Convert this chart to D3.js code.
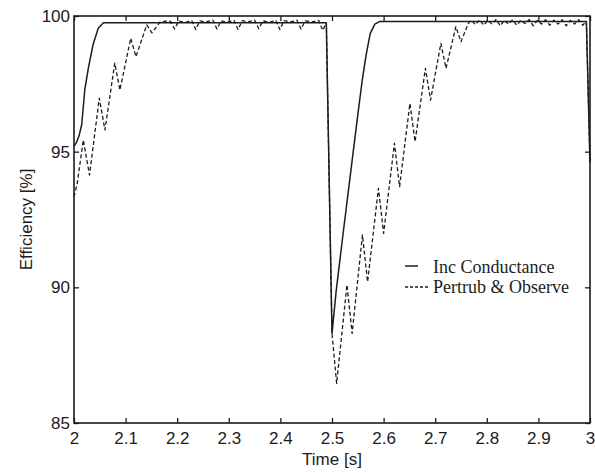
<!DOCTYPE html>
<html>
<head>
<meta charset="utf-8">
<script src="https://cdn.jsdelivr.net/npm/d3@7"></script>
<style>
  html, body { margin: 0; padding: 0; background: #fff; }
  svg { display: block; }
</style>
</head>
<body>
<svg id="chart" width="595" height="473"></svg>
<script>
// ---- Data ----
const xTicks = [2, 2.1, 2.2, 2.3, 2.4, 2.5, 2.6, 2.7, 2.8, 2.9, 3];
const yTicks = [85, 90, 95, 100];
const seriesNames = ["Inc Conductance", "Pertrub & Observe"];

// Incremental conductance (solid)
const icTime = [2.000, 2.005, 2.010, 2.015, 2.021, 2.028, 2.037, 2.047, 2.057, 2.489,
                2.500, 2.508, 2.521, 2.535, 2.548, 2.558, 2.566, 2.574, 2.583, 2.593, 2.993, 3.000];
const icEff  = [95.20, 95.35, 95.60, 96.00, 97.30, 98.10, 98.95, 99.55, 99.75, 99.75,
                88.30, 89.85, 91.90, 94.05, 96.05, 97.55, 98.55, 99.35, 99.70, 99.80, 99.80, 94.60];

// Perturb & observe (dashed)
const poTime = [2.000, 2.006, 2.018, 2.030, 2.049, 2.060, 2.079, 2.089, 2.110, 2.120, 2.141, 2.151, 2.167,
                2.180, 2.187, 2.195, 2.203, 2.215, 2.228, 2.236, 2.244, 2.256, 2.269, 2.277, 2.285,
                2.297, 2.310, 2.318, 2.326, 2.338, 2.350, 2.358, 2.366, 2.379, 2.391, 2.399, 2.407,
                2.420, 2.432, 2.440, 2.448, 2.461, 2.474, 2.482, 2.489,
                2.500, 2.509, 2.529, 2.539, 2.559, 2.569, 2.590, 2.600, 2.621, 2.631, 2.651, 2.661,
                2.681, 2.691, 2.711, 2.721, 2.740, 2.750, 2.764,
                2.770, 2.778, 2.786, 2.794, 2.802, 2.810, 2.818, 2.826, 2.834, 2.842, 2.850, 2.858,
                2.866, 2.874, 2.882, 2.890, 2.898, 2.906, 2.914, 2.922, 2.930, 2.938, 2.946, 2.954,
                2.962, 2.970, 2.978, 2.986, 2.993, 3.000];
const poEff  = [93.34, 93.80, 95.43, 94.14, 96.97, 95.80, 98.26, 97.27, 99.18, 98.50, 99.67, 99.38, 99.78,
                99.82, 99.80, 99.52, 99.82, 99.76, 99.84, 99.50, 99.82, 99.78, 99.85, 99.52, 99.82,
                99.77, 99.84, 99.50, 99.83, 99.78, 99.85, 99.53, 99.82, 99.77, 99.84, 99.50, 99.83,
                99.78, 99.85, 99.52, 99.82, 99.78, 99.84, 99.47, 99.75,
                88.30, 86.46, 90.09, 88.30, 91.93, 90.20, 93.65, 91.99, 95.31, 93.71, 96.78, 95.37,
                98.07, 96.90, 98.99, 98.07, 99.61, 99.05, 99.72,
                99.85, 99.68, 99.86, 99.66, 99.84, 99.70, 99.87, 99.64, 99.85, 99.70, 99.86, 99.66,
                99.84, 99.72, 99.87, 99.64, 99.84, 99.70, 99.86, 99.66, 99.85, 99.70, 99.86, 99.64,
                99.84, 99.70, 99.86, 99.66, 99.80, 94.60];

// ---- Layout ----
const W = 595, H = 473;
const margin = { left: 74, top: 16, right: 5, bottom: 50 };
const iw = W - margin.left - margin.right;
const ih = H - margin.top - margin.bottom;
const ink = "#1c1c1c";

const svg = d3.select("#chart");
const g = svg.append("g").attr("transform", `translate(${margin.left},${margin.top})`);

const x = d3.scaleLinear().domain([2, 3]).range([0, iw]);
const y = d3.scaleLinear().domain([85, 100]).range([ih, 0]);

const fmt = d => (Number.isInteger(d) ? String(d) : d3.format(".1f")(d));
const axisFont = "'Liberation Sans', Arial, sans-serif";

// bottom axis (inward ticks)
const xb = g.append("g").attr("transform", `translate(0,${ih})`)
  .call(d3.axisBottom(x).tickValues(xTicks).tickFormat(fmt).tickSizeInner(-5).tickSizeOuter(0).tickPadding(9));
// top axis (ticks only)
const xt = g.append("g")
  .call(d3.axisTop(x).tickValues(xTicks).tickFormat("").tickSizeInner(-5).tickSizeOuter(0));
// left axis
const yl = g.append("g")
  .call(d3.axisLeft(y).tickValues(yTicks).tickFormat(d3.format("d")).tickSizeInner(-5).tickSizeOuter(0).tickPadding(4));
// right axis
const yr = g.append("g").attr("transform", `translate(${iw},0)`)
  .call(d3.axisRight(y).tickValues(yTicks).tickFormat("").tickSizeInner(-5).tickSizeOuter(0));

[xb, xt, yl, yr].forEach(a => {
  a.select(".domain").remove();
  a.selectAll(".tick line").attr("stroke", ink).attr("stroke-width", 1.3);
  a.selectAll("text").attr("fill", ink).style("font-family", axisFont).style("font-size", "17px");
});

// frame
g.append("rect").attr("x", 0).attr("y", 0).attr("width", iw).attr("height", ih)
  .attr("fill", "none").attr("stroke", ink).attr("stroke-width", 1.6);

// lines
const line = d3.line().x(d => x(d[0])).y(d => y(d[1]));
const icData = icTime.map((t, i) => [t, icEff[i]]);
const poData = poTime.map((t, i) => [t, poEff[i]]);

g.append("path").datum(poData).attr("d", line)
  .attr("fill", "none").attr("stroke", ink).attr("stroke-width", 1.3)
  .attr("stroke-dasharray", "4,2.5").attr("stroke-linejoin", "round");
g.append("path").datum(icData).attr("d", line)
  .attr("fill", "none").attr("stroke", ink).attr("stroke-width", 1.5)
  .attr("stroke-linejoin", "round");

// axis titles
svg.append("text").attr("x", margin.left + iw / 2).attr("y", 465)
  .attr("text-anchor", "middle").attr("fill", ink)
  .style("font-family", axisFont).style("font-size", "17px").text("Time [s]");
svg.append("text").attr("transform", `translate(32,${margin.top + ih / 2}) rotate(-90)`)
  .attr("text-anchor", "middle").attr("fill", ink)
  .style("font-family", axisFont).style("font-size", "17px").text("Efficiency [%]");

// legend
const serif = "'Liberation Serif', 'Times New Roman', serif";
const leg = svg.append("g");
leg.append("line").attr("x1", 405).attr("x2", 418).attr("y1", 266).attr("y2", 266)
  .attr("stroke", ink).attr("stroke-width", 1.5);
leg.append("line").attr("x1", 405).attr("x2", 430).attr("y1", 287).attr("y2", 287)
  .attr("stroke", ink).attr("stroke-width", 1.3).attr("stroke-dasharray", "3,2");
leg.append("text").attr("x", 433).attr("y", 273).attr("fill", ink)
  .style("font-family", serif).style("font-size", "18px").text(seriesNames[0]);
leg.append("text").attr("x", 433).attr("y", 292.5).attr("fill", ink)
  .style("font-family", serif).style("font-size", "18px").text(seriesNames[1]);
</script>
</body>
</html>
